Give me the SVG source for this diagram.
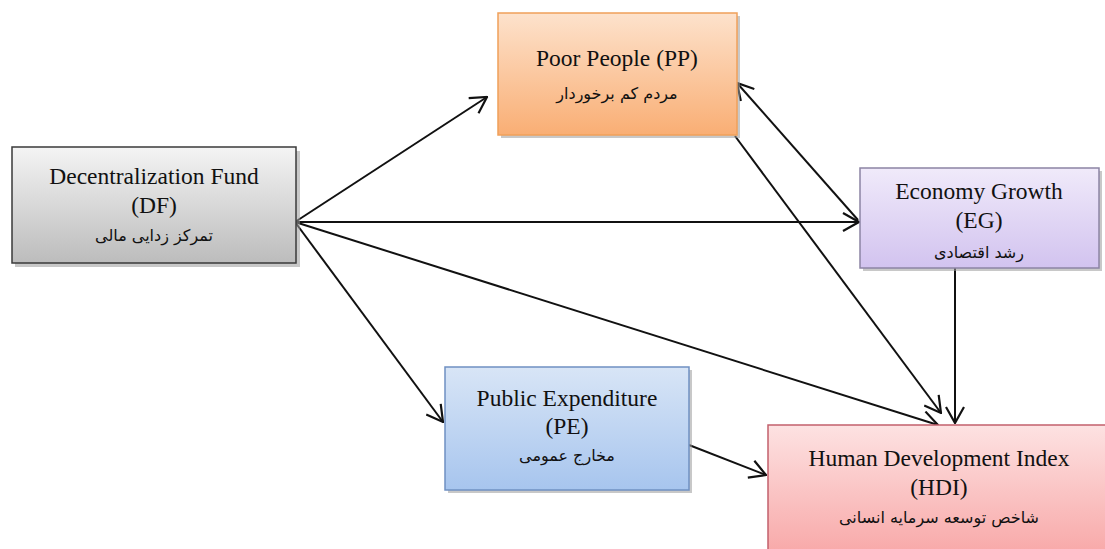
<svg xmlns="http://www.w3.org/2000/svg" width="1105" height="549" viewBox="0 0 1105 549">
<style>
.en{font-family:"Liberation Serif","Times New Roman",serif;font-size:23.5px;fill:#111;text-anchor:middle}
.fa{font-family:"DejaVu Sans","Noto Sans",sans-serif;font-size:16px;fill:#111;text-anchor:middle}
.conn{stroke:#111;stroke-width:2;fill:none}
.shadow{fill:#9a9a9a;opacity:0.55}
</style>
<defs>
<marker id="arr" viewBox="0 0 18 20" refX="17" refY="10" markerWidth="18" markerHeight="20" markerUnits="userSpaceOnUse" orient="auto">
<path d="M1,1 L17,10 L1,19" fill="none" stroke="#111" stroke-width="2.2"/>
</marker>
<linearGradient id="gDF" x1="0" y1="0" x2="0" y2="1"><stop offset="0" stop-color="#f4f4f4"/><stop offset="1" stop-color="#bcbcbc"/></linearGradient>
<linearGradient id="gPP" x1="0" y1="0" x2="0" y2="1"><stop offset="0" stop-color="#fde2cc"/><stop offset="1" stop-color="#f9ae74"/></linearGradient>
<linearGradient id="gEG" x1="0" y1="0" x2="0" y2="1"><stop offset="0" stop-color="#f0eafa"/><stop offset="1" stop-color="#d2c3ef"/></linearGradient>
<linearGradient id="gPE" x1="0" y1="0" x2="0" y2="1"><stop offset="0" stop-color="#d8e5f6"/><stop offset="1" stop-color="#a7c5ee"/></linearGradient>
<linearGradient id="gHDI" x1="0" y1="0" x2="0" y2="1"><stop offset="0" stop-color="#fde2e2"/><stop offset="1" stop-color="#f8a8a8"/></linearGradient>
</defs>
<rect width="1105" height="549" fill="#ffffff"/>

<g id="connectors">
<line class="conn" x1="295" y1="222" x2="487" y2="97" marker-end="url(#arr)"/>
<line class="conn" x1="295" y1="222" x2="859" y2="222" marker-end="url(#arr)"/>
<line class="conn" x1="295" y1="222" x2="443" y2="422" marker-end="url(#arr)"/>
<line class="conn" x1="295" y1="222" x2="938" y2="425" marker-end="url(#arr)"/>
<line class="conn" x1="858" y1="220" x2="737" y2="83" marker-end="url(#arr)"/>
<line class="conn" x1="735" y1="136" x2="941" y2="413" marker-end="url(#arr)"/>
<line class="conn" x1="955" y1="268" x2="955" y2="423" marker-end="url(#arr)"/>
<line class="conn" x1="689" y1="445" x2="766" y2="475" marker-end="url(#arr)"/>
</g>

<g id="node-DF">
<rect class="shadow" x="15" y="151" width="285" height="116"/>
<rect x="12" y="147" width="284" height="116" fill="url(#gDF)" stroke="#3a3a3a" stroke-width="1.5"/>
<text class="en" x="154" y="184">Decentralization Fund</text>
<text class="en" x="154" y="213">(DF)</text>
<text class="fa" x="154" y="241">تمرکز زدایی مالی</text>
</g>

<g id="node-PP">
<rect class="shadow" x="501" y="16" width="239" height="122"/>
<rect x="498" y="13" width="239" height="122" fill="url(#gPP)" stroke="#f0a05a" stroke-width="1.5"/>
<text class="en" x="617" y="66">Poor People (PP)</text>
<text class="fa" x="617" y="99">مردم کم برخوردار</text>
</g>

<g id="node-EG">
<rect class="shadow" x="863" y="171" width="239" height="100"/>
<rect x="860" y="168" width="239" height="100" fill="url(#gEG)" stroke="#8c84a4" stroke-width="1.5"/>
<text class="en" x="979" y="199">Economy Growth</text>
<text class="en" x="979" y="228">(EG)</text>
<text class="fa" x="979" y="258">رشد اقتصادی</text>
</g>

<g id="node-PE">
<rect class="shadow" x="448" y="370" width="244" height="123"/>
<rect x="445" y="367" width="244" height="123" fill="url(#gPE)" stroke="#6f90c2" stroke-width="1.5"/>
<text class="en" x="567" y="406">Public Expenditure</text>
<text class="en" x="567" y="434">(PE)</text>
<text class="fa" x="567" y="461">مخارج عمومی</text>
</g>

<g id="node-HDI">
<rect x="768" y="425" width="345" height="130" fill="url(#gHDI)" stroke="#c2606c" stroke-width="1.5"/>
<text class="en" x="939" y="466">Human Development Index</text>
<text class="en" x="939" y="495">(HDI)</text>
<text class="fa" x="939" y="523">شاخص توسعه سرمایه انسانی</text>
</g>
</svg>
